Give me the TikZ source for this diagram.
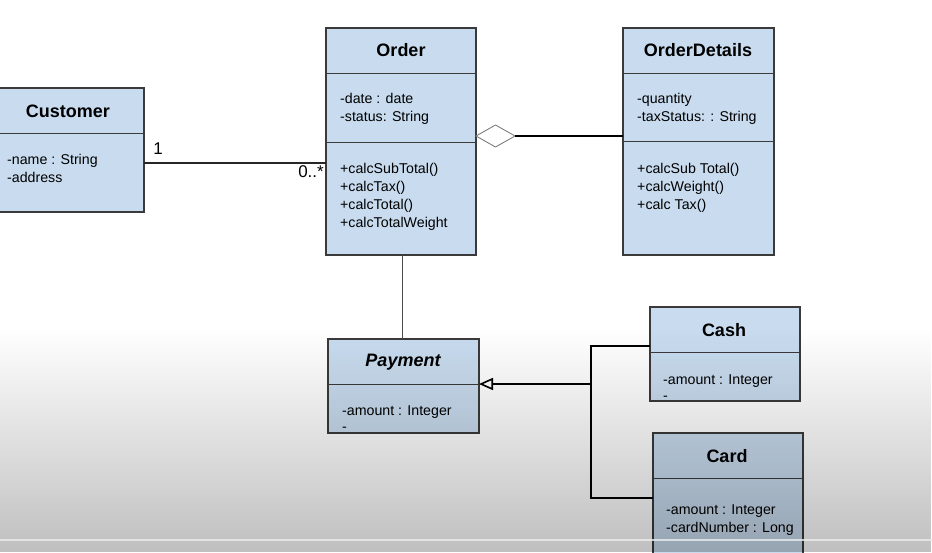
\documentclass[tikz,border=0pt]{standalone}
\usepackage{fontspec}
\setmainfont{Liberation Sans}
\usetikzlibrary{arrows.meta,fadings}
\tikzfading[name=fadedown, top color=transparent!100, bottom color=transparent!0]
\definecolor{boxblue}{HTML}{C9DCEF}
\definecolor{boxline}{HTML}{3A3A3A}
\begin{document}
\begin{tikzpicture}[x=1pt,y=-1pt,
  classbox/.style={draw=boxline, line width=1.1pt, fill=boxblue},
  divider/.style={draw=boxline, line width=0.9pt},
  ttl/.style={font=\fontsize{18}{20}\selectfont\bfseries, inner sep=0pt},
  itm/.style={font=\fontsize{14.2}{18}\selectfont, inner sep=0pt, anchor=base west, align=left},
  mult/.style={font=\fontsize{17}{18}\selectfont, inner sep=0pt},
  assoc/.style={line width=1.4pt, draw=black!85},
  thin/.style={line width=1pt, draw=black!70}]
\useasboundingbox (0,0) rectangle (932,552);
\fill[white] (0,0) rectangle (932,552);
% Customer
\draw[classbox] (-5,88) rectangle (144,212);
\draw[divider] (-5,133) -- (144,133);
\node[ttl] (custT) at (68,111) {Customer};
\node[itm] (custA) at (7,182) {-name : String\\-address};
\coordinate (custR) at (144,163);
% Order
\draw[classbox] (326,28) rectangle (476,255);
\draw[divider] (326,73) -- (476,73);
\draw[divider] (326,142) -- (476,142);
\node[ttl] (ordT) at (401,50) {Order};
\node[itm] (ordA) at (340,121) {-date : date\\-status: String};
\node[itm] (ordM) at (340,227) {+calcSubTotal()\\+calcTax()\\+calcTotal()\\+calcTotalWeight};
\coordinate (ordL) at (326,163);
\coordinate (ordR) at (476,136);
\coordinate (ordB) at (402,255);
% OrderDetails
\draw[classbox] (623,28) rectangle (774,255);
\draw[divider] (623,73) -- (774,73);
\draw[divider] (623,141) -- (774,141);
\node[ttl] (odT) at (698,50) {OrderDetails};
\node[itm] (odA) at (637,121) {-quantity\\-taxStatus: : String};
\node[itm] (odM) at (637,209) {+calcSub Total()\\+calcWeight()\\+calc Tax()};
\coordinate (odL) at (623,136);
% Payment
\draw[classbox] (328,339) rectangle (479,433);
\draw[divider] (328,384) -- (479,384);
\node[ttl, font=\fontsize{18}{20}\selectfont\bfseries\itshape] (payT) at (403,362) {Payment};
\node[itm, font=\fontsize{14.2}{16}\selectfont] (payA) at (342,431) {-amount : Integer\\-};
\coordinate (payT0) at (402,339);
\coordinate (payR) at (479,384);
% Cash
\draw[classbox] (650,307) rectangle (800,401);
\draw[divider] (650,352) -- (800,352);
\node[ttl] (cashT) at (724,330) {Cash};
\node[itm, font=\fontsize{14.2}{16}\selectfont] (cashA) at (663,400) {-amount : Integer\\-};
\coordinate (cashL) at (650,346);
% Card
\draw[classbox] (653,433) rectangle (803,560);
\draw[divider] (653,478) -- (803,478);
\node[ttl] (cardT) at (727,456) {Card};
\node[itm] (cardA) at (666,532) {-amount : Integer\\-cardNumber : Long};
\coordinate (cardL) at (653,498);
% junction points
\coordinate (jTop) at (591,346);
\coordinate (jMid) at (591,384);
\coordinate (jBot) at (591,498);
\coordinate (dTip) at (515,136);
% association Customer - Order
\draw[assoc] (custR) -- (ordL);
\node[mult] (m1) at (158,149) {1};
\node[mult, anchor=east] (m2) at (324,172) {0..*};
% aggregation
\draw[draw=black!55, line width=0.8pt, fill=white] (ordR) -- (495.5,125) -- (dTip) -- (495.5,147) -- cycle;
\draw[line width=2.8pt] (dTip) -- (odL);
% Order - Payment
\draw[thin] (ordB) -- (payT0);
% generalization
\draw[line width=1.8pt, -{Triangle[open, length=14pt, width=12pt, line width=1.6pt]}] (jMid) -- (payR);
\draw[line width=1.6pt, line join=miter] (cashL) -- (jTop) -- (jBot) -- (cardL);
% video overlay gradient
\fill[black, path fading=fadedown, opacity=0.25] (0,330) rectangle (932,552);
\draw[white!85!gray, line width=2pt, opacity=0.8] (0,539.5) -- (932,539.5);
\end{tikzpicture}
\end{document}
